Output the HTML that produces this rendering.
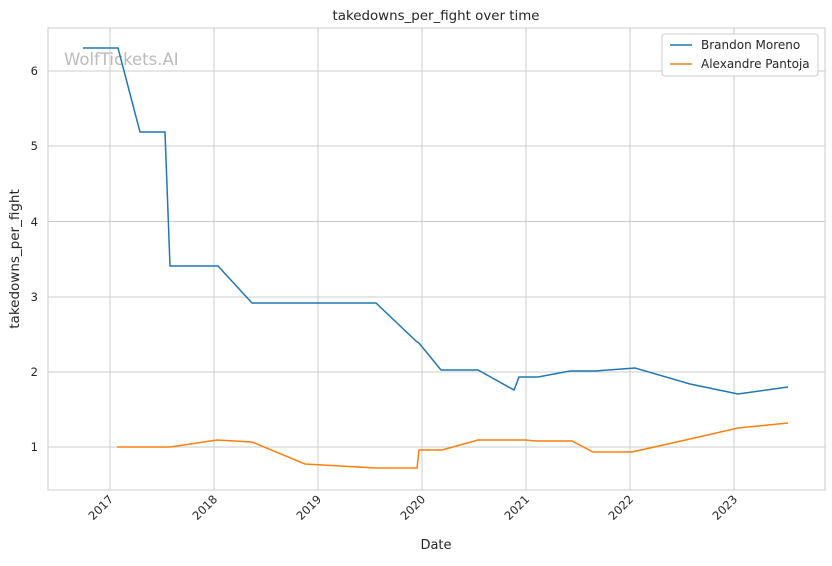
<!DOCTYPE html>
<html><head><style>
body{margin:0;background:#fff;}
svg{font-family:"DejaVu Sans","Liberation Sans",sans-serif;}
</style></head><body>
<svg width="832" height="561" viewBox="0 0 832 561" xmlns="http://www.w3.org/2000/svg">
<rect width="832" height="561" fill="#fff"/>
<g stroke="#cccccc" stroke-width="1">
<line x1="110" y1="28" x2="110" y2="490"/><line x1="214" y1="28" x2="214" y2="490"/>
<line x1="318" y1="28" x2="318" y2="490"/><line x1="422" y1="28" x2="422" y2="490"/>
<line x1="526" y1="28" x2="526" y2="490"/><line x1="630" y1="28" x2="630" y2="490"/>
<line x1="734" y1="28" x2="734" y2="490"/>
<line x1="48" y1="71" x2="825" y2="71"/><line x1="48" y1="146" x2="825" y2="146"/>
<line x1="48" y1="221.5" x2="825" y2="221.5"/><line x1="48" y1="297" x2="825" y2="297"/>
<line x1="48" y1="372" x2="825" y2="372"/><line x1="48" y1="447" x2="825" y2="447"/>
</g>
<rect x="48" y="28" width="777" height="462" fill="none" stroke="#cccccc" stroke-width="1"/>
<text x="64" y="65" font-size="16.5" fill="#bbbbbb">WolfTickets.AI</text>
<polyline fill="none" stroke="#1f77b4" stroke-width="1.5" points="83,48 118,48 140,132 165,132 170,266 218,266 252,303 376,303 416,341 419,343 441,370 478,370 514,390 519,377 538,377 570,371 595,371 635,368 690,384 738,394 788,387"/>
<polyline fill="none" stroke="#ff7f0e" stroke-width="1.5" points="117,447 170,447 217,440 252,442 305,464 340,466 376,468 417,468 419,450 442,450 478,440 525,440 536,441 572,441 593,452 632,452 690,439 738,428 788,423"/>
<g font-size="11.5" fill="#262626" text-anchor="end">
<text x="38" y="75">6</text><text x="38" y="150">5</text><text x="38" y="226">4</text>
<text x="38" y="301">3</text><text x="38" y="376">2</text><text x="38" y="451">1</text>
</g>
<g font-size="11.5" fill="#262626" text-anchor="end">
<text transform="translate(114,500) rotate(-45)">2017</text>
<text transform="translate(218,500) rotate(-45)">2018</text>
<text transform="translate(322,500) rotate(-45)">2019</text>
<text transform="translate(426,500) rotate(-45)">2020</text>
<text transform="translate(530,500) rotate(-45)">2021</text>
<text transform="translate(634,500) rotate(-45)">2022</text>
<text transform="translate(738,500) rotate(-45)">2023</text>
</g>
<text x="436" y="549" font-size="13" fill="#262626" text-anchor="middle">Date</text>
<text transform="translate(19,259) rotate(-90)" font-size="13.5" fill="#262626" text-anchor="middle">takedowns_per_fight</text>
<text x="436" y="20" font-size="13.4" fill="#262626" text-anchor="middle">takedowns_per_fight over time</text>
<rect x="662" y="34" width="156" height="42" fill="#fff" stroke="#cccccc" rx="3"/>
<line x1="670" y1="45" x2="692" y2="45" stroke="#1f77b4" stroke-width="1.5"/>
<text x="701" y="49" font-size="12" fill="#262626">Brandon Moreno</text>
<line x1="670" y1="64" x2="692" y2="64" stroke="#ff7f0e" stroke-width="1.5"/>
<text x="701" y="68" font-size="12" fill="#262626">Alexandre Pantoja</text>
</svg>
</body></html>
